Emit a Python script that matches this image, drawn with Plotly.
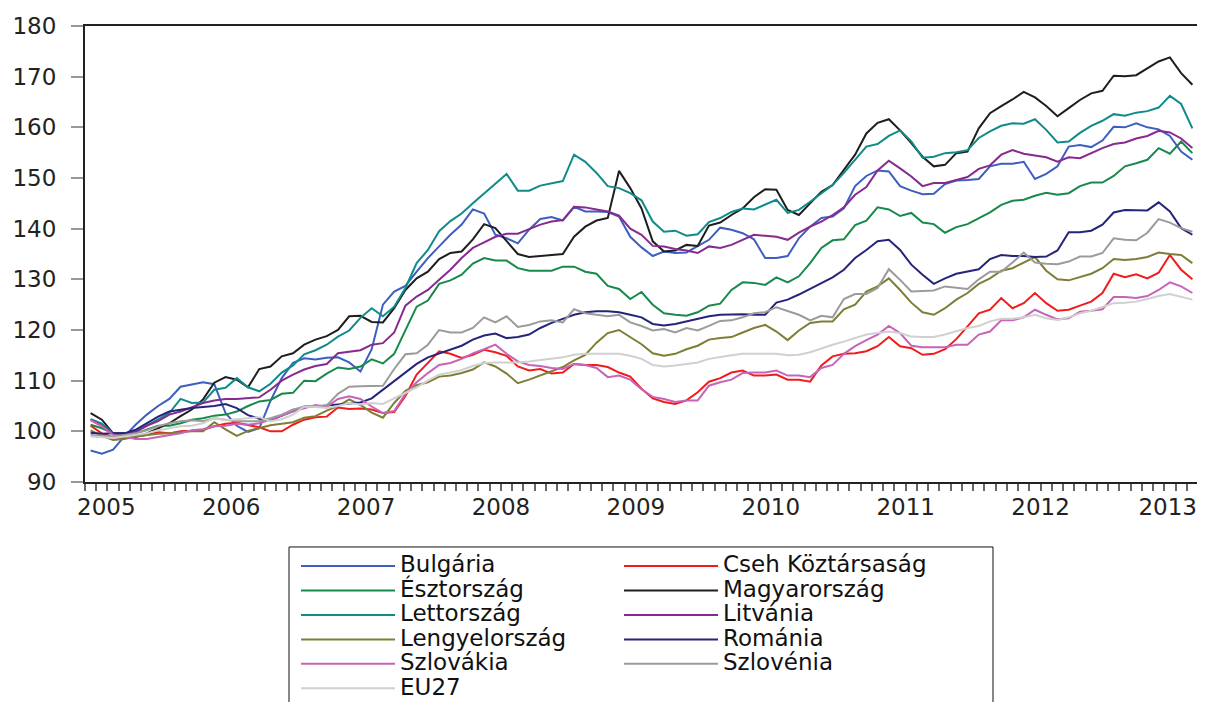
import plotly.graph_objects as go

# ---------------- data (monthly index, 2005M06 - 2013M08) ----------------
years = ["2005", "2006", "2007", "2008", "2009", "2010", "2011", "2012", "2013"]

names = ["Bulgária", "Cseh Köztársaság", "Észtország", "Magyarország", "Lettország",
         "Litvánia", "Lengyelország", "Románia", "Szlovákia", "Szlovénia", "EU27"]

bulgaria = [96.2, 95.6, 96.4, 99.0, 101.3, 103.3, 105.0, 106.4, 108.8, 109.2,
            109.7, 109.3, 103.6, 101.1, 99.9, 100.6, 106.0, 110.5, 113.5, 114.4,
            114.2, 114.5, 114.6, 113.6, 111.8, 116.2, 125.0, 127.6, 128.7, 131.5,
            134.2, 136.5, 138.8, 140.8, 143.8, 143.0, 138.8, 138.1, 137.1, 139.8,
            141.9, 142.3, 141.6, 144.3, 143.4, 143.4, 143.3, 142.4, 138.4, 136.3,
            134.6, 135.5, 135.2, 135.3, 136.5, 137.8, 140.2, 139.8, 139.1, 137.9,
            134.2, 134.2, 134.6, 138.1, 140.4, 142.1, 142.4, 144.0, 148.4, 150.4,
            151.5, 151.3, 148.4, 147.5, 146.8, 146.9, 148.8, 149.5, 149.6, 149.8,
            152.3, 152.8, 152.8, 153.2, 149.8, 150.8, 152.3, 156.2, 156.5, 156.1,
            157.4, 160.1, 160.0, 160.8, 160.0, 159.6, 158.3, 155.2, 153.6]

cseh = [101.1, 99.6, 98.8, 98.7, 98.9, 99.3, 99.8, 99.6, 100.0, 100.1,
        100.3, 101.0, 101.5, 101.7, 101.3, 100.8, 100.0, 100.0, 101.3, 102.3,
        102.8, 102.9, 104.7, 104.4, 104.5, 104.3, 103.6, 103.8, 107.0, 111.2,
        113.5, 115.8, 115.3, 114.5, 115.1, 116.1, 115.6, 114.9, 112.8, 112.0,
        112.3, 111.4, 111.6, 113.3, 113.1, 113.1, 112.7, 111.6, 110.8, 108.4,
        106.5, 105.8, 105.4, 106.1, 107.7, 109.8, 110.5, 111.6, 112.0, 111.0,
        111.0, 111.2, 110.2, 110.2, 109.8, 113.0, 114.8, 115.3, 115.4, 115.8,
        116.8, 118.6, 116.8, 116.4, 115.1, 115.3, 116.2, 118.2, 120.7, 123.3,
        124.0, 126.3, 124.3, 125.3, 127.3, 125.3, 123.8, 124.0, 124.8, 125.6,
        127.3, 131.1, 130.4, 131.0, 130.2, 131.3, 134.8, 131.9, 130.0]

esztorszag = [101.3, 100.6, 99.6, 99.3, 99.6, 100.4, 101.1, 101.1, 101.6, 102.3,
              102.6, 103.1, 103.3, 103.9, 105.0, 105.9, 106.2, 107.4, 107.6, 110.0,
              109.9, 111.4, 112.6, 112.3, 112.8, 114.2, 113.4, 115.3, 120.0, 124.6,
              125.8, 129.1, 129.8, 130.9, 133.1, 134.2, 133.7, 133.7, 132.2, 131.7,
              131.7, 131.7, 132.5, 132.5, 131.5, 131.1, 128.7, 128.1, 126.1, 127.5,
              125.0, 123.3, 123.0, 122.8, 123.5, 124.8, 125.2, 127.9, 129.4, 129.3,
              128.9, 130.4, 129.4, 130.6, 133.2, 136.2, 137.7, 137.9, 140.7, 141.6,
              144.2, 143.8, 142.5, 143.1, 141.2, 140.9, 139.2, 140.3, 140.9, 142.1,
              143.2, 144.7, 145.5, 145.7, 146.5, 147.1, 146.7, 147.0, 148.4, 149.1,
              149.1, 150.4, 152.3, 152.9, 153.6, 155.9, 154.8, 157.2, 154.9]

magyarorszag = [103.6, 102.3, 99.6, 99.6, 99.0, 99.6, 100.6, 101.6, 103.0, 104.3,
                106.3, 109.6, 110.7, 110.2, 108.7, 112.3, 112.8, 114.8, 115.4, 117.1,
                118.1, 118.8, 120.0, 122.7, 122.8, 121.6, 121.5, 124.3, 127.9, 130.2,
                131.5, 134.0, 135.2, 135.5, 137.9, 140.9, 140.1, 137.5, 135.0, 134.4,
                134.6, 134.7, 135.0, 138.4, 140.4, 141.6, 142.1, 151.4, 148.0, 144.0,
                137.5, 135.5, 135.7, 136.8, 136.6, 140.6, 141.2, 142.7, 144.0, 146.2,
                147.8, 147.7, 143.7, 142.7, 145.0, 147.3, 148.6, 151.6, 154.6, 158.8,
                160.9, 161.6, 159.4, 156.9, 154.2, 152.3, 152.6, 154.9, 155.2, 159.8,
                162.8, 164.2, 165.5, 167.0, 165.9, 164.2, 162.2, 163.8, 165.4, 166.7,
                167.2, 170.2, 170.1, 170.3, 171.7, 173.0, 173.8, 170.7, 168.4]

lettorszag = [102.4, 101.5, 99.6, 99.4, 99.9, 101.1, 102.4, 103.6, 106.4, 105.6,
              105.7, 108.2, 108.6, 110.5, 108.7, 107.9, 109.4, 111.6, 113.0, 115.2,
              116.0, 117.1, 118.7, 119.9, 122.4, 124.3, 122.7, 124.6, 128.3, 133.2,
              135.8, 139.5, 141.5, 143.0, 145.0, 147.0, 148.8, 150.8, 147.5, 147.5,
              148.5, 149.0, 149.4, 154.6, 153.2, 151.0, 148.4, 148.0, 147.0, 145.6,
              141.4, 139.4, 139.6, 138.6, 138.9, 141.3, 142.1, 143.3, 144.0, 143.8,
              144.7, 145.7, 143.1, 143.7, 145.3, 147.0, 148.6, 151.0, 153.7, 156.2,
              156.7, 158.3, 159.4, 157.2, 154.0, 154.2, 154.9, 155.1, 155.5, 157.9,
              159.2, 160.3, 160.8, 160.7, 161.6, 159.5, 157.0, 157.2, 158.9, 160.3,
              161.3, 162.6, 162.3, 162.9, 163.2, 163.9, 166.2, 164.6, 159.8]

litvania = [102.3, 101.1, 99.6, 99.5, 99.9, 101.1, 102.0, 103.3, 103.9, 104.8,
            105.6, 106.1, 106.4, 106.4, 106.5, 106.7, 108.2, 110.0, 111.2, 112.2,
            112.9, 113.3, 115.4, 115.7, 116.0, 117.1, 117.4, 119.5, 124.8, 126.6,
            127.9, 129.9, 131.9, 134.2, 136.2, 137.3, 138.4, 139.0, 139.0, 139.9,
            140.8, 141.4, 141.7, 144.3, 144.2, 143.8, 143.4, 142.6, 140.0, 138.8,
            136.6, 136.5, 136.0, 135.7, 135.2, 136.5, 136.2, 136.8, 137.8, 138.8,
            138.6, 138.4, 137.8, 139.2, 140.4, 141.4, 142.7, 144.2, 146.7, 148.2,
            151.5, 153.4, 151.9, 150.3, 148.4, 149.0, 149.0, 149.6, 150.2, 151.8,
            152.5, 154.6, 155.5, 154.8, 154.4, 154.1, 153.2, 154.1, 153.9, 154.9,
            155.9, 156.7, 157.0, 157.8, 158.3, 159.3, 159.0, 157.8, 155.9]

lengyelorszag = [100.2, 99.1, 98.3, 98.5, 99.0, 99.3, 99.5, 99.6, 99.8, 100.0,
                 100.0, 101.8, 100.4, 99.1, 100.1, 100.6, 101.2, 101.5, 101.8, 102.7,
                 103.0, 104.1, 105.0, 106.3, 105.2, 103.7, 102.7, 105.6, 108.0, 109.1,
                 109.7, 110.8, 111.0, 111.5, 112.2, 113.6, 112.8, 111.4, 109.5, 110.2,
                 111.0, 111.8, 112.7, 114.0, 115.1, 117.5, 119.4, 120.0, 118.6, 117.2,
                 115.4, 114.9, 115.3, 116.2, 116.9, 118.1, 118.4, 118.6, 119.5, 120.4,
                 121.0, 119.7, 118.0, 119.9, 121.4, 121.7, 121.7, 124.1, 125.0, 127.6,
                 128.6, 130.2, 127.9, 125.4, 123.5, 123.0, 124.3, 126.0, 127.3, 129.1,
                 130.2, 131.7, 132.2, 133.3, 134.4, 131.7, 130.0, 129.8, 130.4, 131.1,
                 132.2, 134.0, 133.8, 134.0, 134.4, 135.3, 135.0, 134.8, 133.2]

romania = [99.7, 99.5, 99.6, 99.6, 100.3, 101.6, 102.9, 103.9, 104.3, 104.6,
           104.8, 105.0, 105.4, 104.6, 103.2, 102.5, 102.2, 103.1, 104.1, 104.9,
           104.9, 105.1, 105.4, 105.5, 105.7, 106.5, 108.2, 110.0, 111.7, 113.3,
           114.6, 115.4, 116.1, 116.9, 118.1, 118.9, 119.3, 118.4, 118.6, 119.1,
           120.4, 121.4, 122.2, 123.0, 123.5, 123.7, 123.7, 123.5, 123.0, 122.5,
           121.2, 120.9, 121.2, 121.7, 122.2, 122.7, 123.0, 123.1, 123.1, 123.0,
           123.0, 125.4, 126.0, 127.0, 128.1, 129.2, 130.4, 131.9, 134.2, 135.8,
           137.5, 137.8, 135.8, 132.9, 130.9, 129.1, 130.2, 131.1, 131.5, 132.0,
           134.0, 134.8, 134.6, 134.6, 134.4, 134.5, 135.7, 139.3, 139.3, 139.6,
           140.8, 143.2, 143.7, 143.6, 143.6, 145.2, 143.4, 140.1, 138.8]

szlovakia = [102.2, 101.0, 99.3, 99.0, 98.5, 98.5, 98.9, 99.3, 99.6, 100.2,
             100.4, 101.0, 101.1, 101.5, 101.3, 101.6, 102.3, 103.1, 103.9, 104.6,
             105.2, 104.8, 106.4, 106.9, 106.4, 104.9, 103.6, 104.0, 107.4, 109.7,
             111.5, 113.1, 113.5, 114.3, 115.4, 116.2, 117.1, 115.3, 113.8, 113.1,
             112.9, 112.5, 112.3, 113.3, 113.1, 112.5, 110.7, 111.0, 110.2, 108.3,
             106.8, 106.4, 105.8, 106.1, 106.1, 109.0, 109.7, 110.2, 111.5, 111.6,
             111.6, 112.0, 111.0, 111.0, 110.7, 112.5, 113.1, 115.3, 116.8, 118.0,
             119.1, 120.8, 119.4, 116.9, 116.6, 116.6, 116.6, 117.1, 117.1, 119.1,
             119.7, 121.9, 121.9, 122.5, 124.0, 123.0, 122.1, 122.3, 123.6, 123.8,
             124.1, 126.5, 126.5, 126.3, 126.7, 127.9, 129.4, 128.6, 127.3]

szlovenia = [99.3, 99.1, 99.0, 99.3, 99.6, 100.2, 101.0, 101.6, 102.0, 102.2,
             102.0, 102.6, 102.3, 102.0, 102.0, 102.0, 102.6, 103.3, 104.3, 104.8,
             105.0, 105.1, 107.4, 108.8, 108.9, 108.9, 109.0, 112.3, 115.2, 115.4,
             117.1, 120.0, 119.5, 119.5, 120.4, 122.5, 121.5, 122.7, 120.6, 121.0,
             121.7, 121.9, 121.5, 124.1, 123.3, 123.0, 122.7, 123.0, 121.5, 120.8,
             119.9, 120.2, 119.5, 120.4, 119.9, 120.8, 121.8, 121.9, 122.5, 123.3,
             123.5, 124.5, 123.7, 123.0, 121.9, 122.8, 122.5, 126.1, 127.1, 127.1,
             128.3, 132.0, 129.9, 127.6, 127.7, 127.8, 128.6, 128.4, 128.1, 130.0,
             131.5, 131.5, 133.3, 135.3, 133.3, 133.1, 133.0, 133.5, 134.5, 134.5,
             135.2, 138.1, 137.8, 137.7, 139.2, 141.9, 141.2, 140.1, 139.4]

eu27 = [99.0, 98.9, 98.7, 99.0, 99.3, 99.6, 100.2, 100.6, 101.0, 101.1,
        101.6, 102.6, 102.2, 102.4, 102.6, 102.8, 102.0, 102.4, 103.3, 104.9,
        104.8, 104.6, 105.0, 105.6, 105.3, 105.6, 105.4, 106.5, 107.6, 108.7,
        110.0, 111.2, 111.6, 112.1, 112.9, 113.5, 113.6, 113.6, 113.6, 113.8,
        114.1, 114.3, 114.6, 115.1, 115.3, 115.3, 115.3, 115.3, 114.9, 114.3,
        113.1, 112.8, 113.0, 113.3, 113.6, 114.3, 114.7, 115.0, 115.3, 115.3,
        115.3, 115.3, 115.0, 115.1, 115.6, 116.4, 117.1, 117.7, 118.4, 119.1,
        119.4, 119.7, 119.4, 118.7, 118.6, 118.6, 119.1, 119.7, 120.4, 120.8,
        121.7, 122.2, 122.2, 122.5, 123.0, 122.3, 122.0, 122.5, 123.3, 123.8,
        124.5, 125.3, 125.4, 125.6, 126.1, 126.7, 127.1, 126.6, 126.0]

series = [bulgaria, cseh, esztorszag, magyarorszag, lettorszag, litvania,
          lengyelorszag, romania, szlovakia, szlovenia, eu27]

# ---------------- styling ----------------
colors = ["#3D5EC0", "#F01C1C", "#17894B", "#1E1E1E", "#0F8B8B", "#862A90",
          "#7E7E34", "#24247A", "#C763B8", "#9B9B9B", "#D0D0D0"]
legend_of = ["legend", "legend2", "legend", "legend2", "legend", "legend2",
             "legend", "legend2", "legend", "legend2", "legend"]

FONT = "DejaVu Sans"
n_obs = len(bulgaria)
x_idx = list(range(n_obs))

year_label_pos = [1.4, 12.5, 24.5, 36.5, 48.5, 60.5, 72.5, 84.5, 95.8]
year_bounds = [6.5 + 12 * k for k in range(8)]
month_bounds = [k - 0.5 for k in range(n_obs + 1)]

fig = go.Figure()
for name, vals, col, leg in zip(names, series, colors, legend_of):
    fig.add_trace(go.Scatter(
        x=x_idx, y=vals, mode="lines", name=f'<span style="font-size:23px">{name}</span>',
        line=dict(color=col, width=2), legend=leg, hoverinfo="y+name"))

leg_common = dict(orientation="v", bgcolor="rgba(0,0,0,0)", borderwidth=0,
                  font=dict(family=FONT, size=16.5, color="#111"),
                  itemwidth=94, xanchor="left", yanchor="top", tracegroupgap=0)

# the page body adds an 8px offset, so the figure is 8px smaller than the window
fig.update_layout(
    width=1197, height=694,
    margin=dict(l=77, r=7, t=18, b=220, autoexpand=False),
    paper_bgcolor="white", plot_bgcolor="white",
    font=dict(family=FONT, color="#222"),
    xaxis=dict(range=[-0.5, n_obs - 0.5], tickmode="array", tickvals=year_label_pos,
               ticktext=years, ticks="outside", ticklen=3, tickcolor="rgba(0,0,0,0)",
               ticklabeloverflow="allow",
               showline=True, linecolor="#222", linewidth=2, mirror=True,
               showgrid=False, zeroline=False,
               tickfont=dict(family=FONT, size=23, color="#222"),
               minor=dict(tickmode="array", tickvals=month_bounds, ticks="outside",
                          ticklen=7, tickcolor="#666", tickwidth=1.5, showgrid=False)),
    xaxis2=dict(overlaying="x", anchor="y", side="bottom", range=[-0.5, n_obs - 0.5],
                tickmode="array", tickvals=year_bounds, ticks="outside", ticklen=12,
                tickcolor="#666", tickwidth=1.5, showticklabels=False, showline=False,
                showgrid=False, zeroline=False),
    yaxis=dict(range=[90, 180], tickmode="array", tickvals=list(range(90, 181, 10)),
               ticks="outside", ticklen=12, tickcolor="#999", tickwidth=2,
               ticklabelstandoff=10,
               showline=True, linecolor="#222", linewidth=2, mirror=True,
               showgrid=False, zeroline=False,
               tickfont=dict(family=FONT, size=23, color="#222")),
    legend=dict(x=0.1896, y=-0.1465, **leg_common),
    legend2=dict(x=0.4798, y=-0.1465, **leg_common),
    shapes=[dict(type="rect", xref="paper", yref="paper", x0=0.1833, x1=0.8158,
                 y0=-0.1425, y1=-0.62, line=dict(color="#111", width=1),
                 fillcolor="rgba(0,0,0,0)", layer="below")],
)

fig.write_html("out.html")
